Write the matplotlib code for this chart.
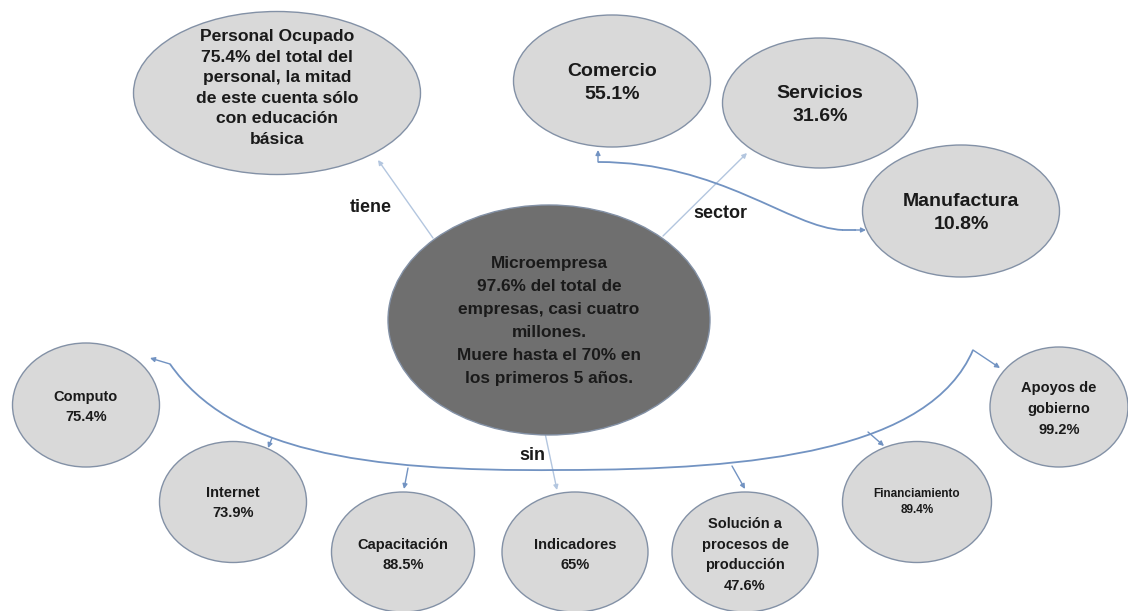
import matplotlib
matplotlib.use("Agg")
from matplotlib import pyplot as plt
from matplotlib.patches import Ellipse, PathPatch
from matplotlib.path import Path

plt.rcParams['font.family'] = ['Liberation Sans', 'DejaVu Sans']

# textos de los nodos
centro = "Microempresa\n97.6% del total de\nempresas, casi cuatro\nmillones.\nMuere hasta el 70% en\nlos primeros 5 años."
personal = "Personal Ocupado\n75.4% del total del\npersonal, la mitad\nde este cuenta sólo\ncon educación\nbásica"
sectores = ["Comercio", "Servicios", "Manufactura"]
sectores_pct = ["55.1%", "31.6%", "10.8%"]
carencias = ["Computo", "Internet", "Capacitación", "Indicadores",
             "Solución a\nprocesos de\nproducción", "Financiamiento", "Apoyos de\ngobierno"]
carencias_pct = ["75.4%", "73.9%", "88.5%", "65%", "47.6%", "89.4%", "99.2%"]
relaciones = ["tiene", "sector", "sin"]

# geometria (pixeles de la imagen): x, y, ancho, alto
pos_sect = [(612, 81, 197, 132), (820, 103, 195, 130), (961, 211, 197, 132)]
txt_sect = [83, 105, 213]
pos_car = [(86, 405, 147, 124), (233, 502, 147, 121), (403, 552, 143, 120),
           (575, 552, 146, 120), (745, 552, 146, 120), (917, 502, 149, 121),
           (1059, 407, 138, 120)]
txt_car = [407, 503, 555, 555, 555, 502, 409]
tam_car = [10.5, 10.5, 10.5, 10.5, 10.5, 8.5, 10.5]
esp_car = [1.6, 1.6, 1.6, 1.6, 1.6, 1.5, 1.6]

fig = plt.figure(figsize=(11.28, 6.11), dpi=100)
ax = fig.add_axes([0, 0, 1, 1])
ax.set_xlim(0, 1128)
ax.set_ylim(611, 0)
ax.axis('off')

gris = '#d9d9d9'
borde = '#8391a6'
azul = '#7293c2'
azul_claro = '#b3c6df'


def nodo(x, y, w, h, texto, fs, ty, esp, fc=gris):
    ax.add_patch(Ellipse((x, y), w, h, fc=fc, ec=borde, lw=1.0, zorder=2))
    ax.text(x, ty, texto, ha='center', va='center', fontsize=fs,
            fontweight='bold', color='#1a1a1a', linespacing=esp, zorder=3)


def flecha(x0, y0, x1, y1, color=azul, lw=1.0):
    ax.annotate('', xy=(x1, y1), xytext=(x0, y0),
                arrowprops=dict(arrowstyle='-|>', color=color, lw=lw,
                                mutation_scale=7, shrinkA=0, shrinkB=0), zorder=1)


def curva(puntos, color=azul, lw=1.3):
    codes = [Path.MOVETO] + [Path.CURVE4] * (len(puntos) - 1)
    ax.add_patch(PathPatch(Path(puntos, codes), fc='none', ec=color, lw=lw, zorder=1))


# conectores
flecha(433, 238, 378, 160, color=azul_claro)
flecha(663, 236, 747, 153, color=azul_claro)
flecha(545, 433, 557, 490, color=azul_claro)

curva([(598, 162), (720, 162), (790, 228), (843, 230)])
ax.plot([843, 855], [230, 230], color=azul, lw=1.3, zorder=1)
flecha(855, 230, 866, 230)
flecha(598, 162, 598, 150)

curva([(170, 364), (230, 450), (360, 472), (560, 470),
       (760, 470), (930, 450), (973, 350)])
flecha(170, 364, 150, 358)
flecha(973, 350, 1000, 368)
flecha(272, 438, 268, 448)
flecha(408, 468, 404, 489)
flecha(732, 466, 745, 489)
flecha(868, 432, 884, 446)

# nodos
nodo(277, 93, 287, 163, personal, 12.6, 88, 1.47)
nodo(549, 320, 322, 230, centro, 12.4, 321, 1.67, fc='#6f6f6f')
for (x, y, w, h), ty, s, p in zip(pos_sect, txt_sect, sectores, sectores_pct):
    nodo(x, y, w, h, s + "\n" + p, 14, ty, 1.5)
for (x, y, w, h), ty, s, p, fs, e in zip(pos_car, txt_car, carencias,
                                          carencias_pct, tam_car, esp_car):
    nodo(x, y, w, h, s + "\n" + p, fs, ty, e)

# etiquetas de relaciones
for t, (x, y) in zip(relaciones, [(371, 207), (720, 213), (532, 455)]):
    ax.text(x, y, t, ha='center', va='center', fontsize=13,
            fontweight='bold', color='#1a1a1a')

fig.savefig('out.png', dpi=100, facecolor='white')
